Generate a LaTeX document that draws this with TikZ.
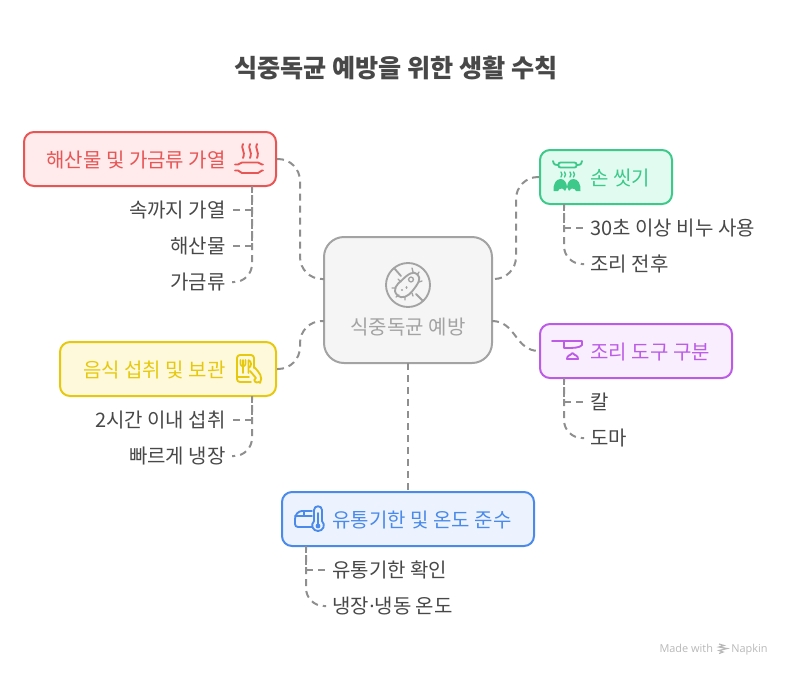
\documentclass[tikz,border=0pt]{standalone}
\usepackage{fontspec}
\setmainfont{Noto Sans CJK KR}
\newfontfamily\napfont{Open Sans}
\definecolor{inkgray}{HTML}{484848}
\definecolor{linkgray}{HTML}{8F8F8F}
\definecolor{ctrline}{HTML}{A3A3A3}
\definecolor{ctrfill}{HTML}{F5F5F5}
\definecolor{redline}{HTML}{E85555}
\definecolor{redfill}{HTML}{FFEBEB}
\definecolor{greenline}{HTML}{3CC98A}
\definecolor{greenfill}{HTML}{E2FBF0}
\definecolor{yellowline}{HTML}{E6C90F}
\definecolor{yellowfill}{HTML}{FFF9DB}
\definecolor{purpleline}{HTML}{BC5CE6}
\definecolor{purplefill}{HTML}{F9EEFE}
\definecolor{blueline}{HTML}{4A8AEA}
\definecolor{bluefill}{HTML}{EDF3FE}
\tikzset{every picture/.style={line width=0.75pt}}
\tikzset{
  box/.style={draw,line width=1.5pt,rounded corners=7.5pt,inner sep=0pt},
  label/.style={text=inkgray,font=\fontsize{15}{18}\selectfont,inner sep=4.5pt},
  boxtext/.style={font=\fontsize{15}{18}\selectfont,inner sep=0pt},
  conn/.style={draw=linkgray,line width=1.5pt,dash pattern=on 5.25pt off 3.75pt},
  lastconn/.style={conn,rounded corners=13.5pt,dash phase=2.25pt},
  icon/.style={line width=1.4pt,line cap=round,line join=round},
  foot/.style={inner sep=0pt,text=black!28,font=\napfont\fontsize{8.2}{10}\selectfont},
}
\begin{document}
\begin{tikzpicture}[x=0.75pt,y=0.75pt,yscale=-1,xscale=1]
\useasboundingbox (0,0) rectangle (792,676);

% Text Node
\draw (396,68) node [text=inkgray,font=\fontsize{18.85}{22}\selectfont\bfseries,inner sep=0pt] (title) {식중독균 예방을 위한 생활 수칙};

%Shape: Rounded boxes
\draw (408,300) node [box,draw=ctrline,fill=ctrfill,rounded corners=15pt,minimum width=126pt,minimum height=94.5pt] (ctr) {};
\draw (150,159) node [box,draw=redline,fill=redfill,minimum width=189pt,minimum height=40.5pt] (sea) {};
\draw (606,177) node [box,draw=greenline,fill=greenfill,minimum width=99pt,minimum height=40.5pt] (hand) {};
\draw (168,369) node [box,draw=yellowline,fill=yellowfill,minimum width=162pt,minimum height=40.5pt] (food) {};
\draw (636,351) node [box,draw=purpleline,fill=purplefill,minimum width=144pt,minimum height=40.5pt] (tool) {};
\draw (408,519) node [box,draw=blueline,fill=bluefill,minimum width=189pt,minimum height=40.5pt] (date) {};

% Text Node
\draw (408,327) node [boxtext,text=ctrline] (ctrtext) {식중독균 예방};
\draw (226,160) node [boxtext,anchor=east,text=redline] (seatext) {해산물 및 가금류 가열};
\draw (590,178) node [boxtext,anchor=west,text=greenline] (handtext) {손 씻기};
\draw (226,370) node [boxtext,anchor=east,text=yellowline] (foodtext) {음식 섭취 및 보관};
\draw (590,352) node [boxtext,anchor=west,text=purpleline] (tooltext) {조리 도구 구분};
\draw (332,520) node [boxtext,anchor=west,text=blueline] (datetext) {유통기한 및 온도 준수};

% Text Node
\draw (232,210) node [label,anchor=east] (inside) {속까지 가열};
\draw (232,246) node [label,anchor=east] (seafood) {해산물};
\draw (232,282) node [label,anchor=east] (poultry) {가금류};
\draw (584,228) node [label,anchor=west] (soap) {30초 이상 비누 사용};
\draw (584,264) node [label,anchor=west] (before) {조리 전후};
\draw (232,420) node [label,anchor=east] (eat) {2시간 이내 섭취};
\draw (232,456) node [label,anchor=east] (fridge) {빠르게 냉장};
\draw (584,402) node [label,anchor=west] (knife) {칼};
\draw (584,438) node [label,anchor=west] (board) {도마};
\draw (326,570) node [label,anchor=west] (check) {유통기한 확인};
\draw (326,606) node [label,anchor=west] (temp) {냉장{\napfont·}냉동 온도};

%Coordinates of the connector ports
\coordinate (ctrA) at (324,279);
\coordinate (ctrB) at (324,321);
\coordinate (ctrC) at (492,279);
\coordinate (ctrD) at (492,321);
\coordinate (ctrE) at (408,363);
\coordinate (laneL) at (300,300);
\coordinate (laneR) at (516,300);
\coordinate (seaDrop) at (252,186);
\coordinate (foodDrop) at (252,396);
\coordinate (handDrop) at (564,204);
\coordinate (toolDrop) at (564,378);
\coordinate (dateDrop) at (306,546);

%Straight Lines
\draw [conn,rounded corners=16.5pt] (sea.east) -- (laneL |- sea.east) -- (laneL |- ctrA) -- (ctrA);
\draw [conn,rounded corners=16.5pt] (food.east) -- (laneL |- food.east) -- (laneL |- ctrB) -- (ctrB);
\draw [conn,rounded corners=16.5pt] (hand.west) -- (laneR |- hand.west) -- (laneR |- ctrC) -- (ctrC);
\draw [conn] (ctrD) .. controls +(24,0) and +(-24,0) .. (tool.west);
\draw [conn] (ctrE) -- (ctrE |- date.north);

\draw [conn] (seaDrop) -- (seaDrop |- inside.east) -- (inside.east);
\draw [conn] (seaDrop) -- (seaDrop |- seafood.east) -- (seafood.east);
\draw [lastconn] (seaDrop) -- (seaDrop |- poultry.east) -- (poultry.east);
\draw [conn] (foodDrop) -- (foodDrop |- eat.east) -- (eat.east);
\draw [lastconn] (foodDrop) -- (foodDrop |- fridge.east) -- (fridge.east);
\draw [conn] (handDrop) -- (handDrop |- soap.west) -- (soap.west);
\draw [lastconn] (handDrop) -- (handDrop |- before.west) -- (before.west);
\draw [conn] (toolDrop) -- (toolDrop |- knife.west) -- (knife.west);
\draw [lastconn] (toolDrop) -- (toolDrop |- board.west) -- (board.west);
\draw [conn] (dateDrop) -- (dateDrop |- check.west) -- (check.west);
\draw [lastconn] (dateDrop) -- (dateDrop |- temp.west) -- (temp.west);

%Icon: bacterium
\draw [icon,draw=ctrline] (408,285) circle [radius=22];
\draw [icon,draw=ctrline] (394,268) -- (401,276) (416,294) -- (423,301);
\draw [icon,draw=ctrline,rotate around={-45:(407,285)}] (393,285) .. controls (393,278) and (400,277) .. (407,278) .. controls (415,278) and (422,279) .. (422,285) .. controls (422,291) and (415,292) .. (407,293) .. controls (400,294) and (393,292) .. (393,285) -- cycle;
\draw [icon,draw=ctrline,line width=1pt] (411,279.5) circle [radius=2.4];
\draw [icon,draw=ctrline,line width=1.6pt] (402,290) -- (402.1,290) (406.5,287.5) -- (406.6,287.5);
\draw [icon,draw=ctrline,line width=1pt] (412,268) -- (413,272) (419,272) -- (417,275) (422,281) -- (419,282) (398,279) -- (401,282) (392,288) -- (396,288) (396,297) -- (399,295) (405,300) -- (405,297) (413,296) -- (412,293);

%Icon: steaming pot
\draw [icon,draw=redline] (243,144) .. controls (240,148) and (246,151) .. (243,158) (250,144) .. controls (247,148) and (253,151) .. (250,158) (257,144) .. controls (254,148) and (260,151) .. (257,158);
\draw [icon,draw=redline] (235,164.5) -- (238,164.5) .. controls (240,164.5) and (240,162.5) .. (242,162.5) -- (258,162.5) .. controls (260,162.5) and (260,164.5) .. (262,164.5) -- (263,164.5);
\draw [icon,draw=redline] (235,170.5) -- (238,170.5) .. controls (240,170.5) and (240,173) .. (242,173) -- (258,173) .. controls (260,173) and (260,170.5) .. (262,170.5) -- (263,170.5);

%Icon: hand washing
\draw [icon,draw=greenline,rounded corners=1.5pt] (558.5,162.5) -- (576.5,162.5) -- (576.5,167.5) -- (558.5,167.5) -- cycle;
\draw [icon,draw=greenline] (553,161) .. controls (554,165) and (555,165) .. (558,165) (582,161) .. controls (581,165) and (580,165) .. (577,165);
\draw [icon,draw=greenline,line width=1pt] (561,172) -- (562,174.5) -- (561,177) (564.5,172) -- (565.5,174.5) -- (564.5,177) (570,172) -- (571,174.5) -- (570,177) (573.5,172) -- (574.5,174.5) -- (573.5,177);
\fill [greenline] (553.5,191) .. controls (553,184) and (556,179) .. (560.5,179) .. controls (565,179) and (566.5,183) .. (567,187) -- (565,191) .. controls (563,188) and (561,188) .. (559.5,189) -- (558,191) -- cycle;
\fill [greenline] (580.5,191) .. controls (581,184) and (578,179) .. (573.5,179) .. controls (569,179) and (567.5,183) .. (567,187) -- (569,191) .. controls (571,188) and (573,188) .. (574.5,189) -- (576,191) -- cycle;

%Icon: menu and hand
\draw [icon,draw=yellowline,rounded corners=2.2pt] (254,368) -- (254,355) -- (237,355) -- (237,382) -- (251,382);
\draw [icon,draw=yellowline] (237,377) -- (249,377);
\draw [icon,draw=yellowline,line width=1.2pt] (240.5,360) -- (240.5,364) .. controls (240.5,367) and (245.5,367) .. (245.5,364) -- (245.5,360) (243,360) -- (243,373) (248.5,373) -- (248.5,360) .. controls (252,361) and (252,367) .. (248.5,368);
\draw [icon,draw=yellowline] (254,367) .. controls (260,373) and (263,377) .. (260,383) (250,371) -- (256,378) .. controls (252,380) and (256,384) .. (259,382);

%Icon: knife and pot
\draw [icon,draw=purpleline] (552,341) -- (582,341) -- (582,345) .. controls (580,348) and (572,348) .. (567,348) -- (564,348) -- (564,341);
\draw [icon,draw=purpleline] (567,359) -- (578,359) .. controls (578,355) and (575,356) .. (572.5,353) .. controls (570,356) and (567,355) .. (567,359) -- cycle;

%Icon: box and thermometer
\draw [icon,draw=blueline,rounded corners=2.2pt] (312,527) -- (295,527) -- (295,516) -- (299,511) -- (312,511);
\draw [icon,draw=blueline] (295,516) -- (312,516) (304,511) -- (304,516);
\draw [icon,draw=blueline] (314,521) -- (314,510) .. controls (314,505) and (322,505) .. (322,510) -- (322,521) .. controls (326,525) and (323,531) .. (318,531) .. controls (313,531) and (310,525) .. (314,521) -- cycle;
\draw [icon,draw=blueline] (318,513) -- (318,525);
\fill [blueline] (318,526) circle [radius=2.4];

%Footer
\draw (659,652) node [foot,anchor=base west] (made) {Made with};
\draw (768,652) node [foot,anchor=base east] (napkin) {Napkin};
\draw [line width=0.9pt,draw=black!28] (719,644) -- (724,645.5) -- (719,647) -- (727,648.5) -- (719,650.5) -- (723,652) -- (719,653.5);
\end{tikzpicture}
\end{document}
